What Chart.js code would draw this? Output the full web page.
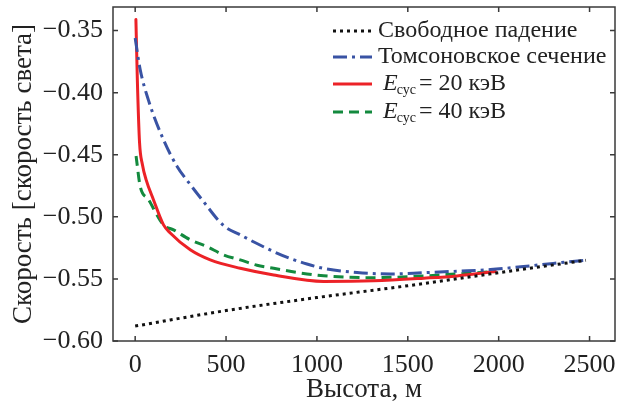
<!DOCTYPE html>
<html>
<head>
<meta charset="utf-8">
<script src="https://cdn.jsdelivr.net/npm/chart.js@4.4.1/dist/chart.umd.min.js"></script>
<style>
  html, body { margin: 0; padding: 0; background: #fff; }
  #wrap { width: 624px; height: 406px; }
</style>
</head>
<body>
<div id="wrap"><canvas id="speedChart" width="624" height="406"></canvas></div>
<script>
// height above ground, m  /  speed in units of c
const freeFallH = [0, 500, 1000, 1500, 2000, 2480];
const freeFallV = [-0.588, -0.5755, -0.565, -0.5555, -0.545, -0.535];

const thomsonH = [0, 27, 73, 156, 229, 303, 367, 486, 578, 670, 762, 853, 945, 1036, 1221, 1404, 1586, 1771, 1955, 2137, 2300, 2478];
const thomsonV = [-0.356, -0.381, -0.406, -0.438, -0.459, -0.474, -0.486, -0.507, -0.5145, -0.5215, -0.528, -0.5335, -0.538, -0.5415, -0.5448, -0.546, -0.545, -0.5438, -0.5425, -0.540, -0.5375, -0.535];

const e20H = [4, 12, 24, 40, 60, 100, 156, 193, 303, 413, 578, 762, 1037, 1312, 1588, 1771, 1982];
const e20V = [-0.341, -0.39, -0.44, -0.458, -0.47, -0.486, -0.5065, -0.513, -0.5266, -0.5347, -0.5414, -0.5468, -0.552, -0.5515, -0.5494, -0.5476, -0.5441];

const e40H = [5, 27, 73, 156, 211, 303, 395, 486, 578, 670, 762, 900, 1037, 1312, 1588, 1771, 1982];
const e40V = [-0.451, -0.475, -0.486, -0.5065, -0.5105, -0.5185, -0.524, -0.5306, -0.5347, -0.539, -0.5414, -0.545, -0.5475, -0.549, -0.5476, -0.546, -0.5441];

const xTicks = [0, 500, 1000, 1500, 2000, 2500];
const yTicks = [-0.60, -0.55, -0.50, -0.45, -0.40, -0.35];

const serif = '"Liberation Serif", "Times New Roman", serif';
const ink = '#222';

function toPoints(hs, vs) {
    return hs.map((h, i) => ({ x: h, y: vs[i] }));
}

const series = [
    { key: 'free', h: freeFallH, v: freeFallV, color: '#111111', dash: [3, 4], cap: 'butt' },
    { key: 'thomson', h: thomsonH, v: thomsonV, color: '#3953a4', dash: [14, 5, 3, 5], cap: 'butt' },
    { key: 'e20', h: e20H, v: e20V, color: '#ec2227', dash: [], cap: 'round' },
    { key: 'e40', h: e40H, v: e40V, color: '#138a3e', dash: [10, 6], cap: 'butt' }
];

// legend rows drawn inside the plot, top right
const legendRows = [
    { key: 'free', text: 'Свободное падение' },
    { key: 'thomson', text: 'Томсоновское сечение' },
    { key: 'e20', energy: '20 кэВ' },
    { key: 'e40', energy: '40 кэВ' }
];

const framePlugin = {
    id: 'frame',
    afterDatasetsDraw(chart) {
        const { ctx, chartArea: a, scales } = chart;
        ctx.save();
        ctx.strokeStyle = '#3a3a3a';
        ctx.lineWidth = 1.5;
        ctx.strokeRect(a.left, a.top, a.right - a.left, a.bottom - a.top);
        ctx.beginPath();
        xTicks.forEach((t) => {
            const px = scales.x.getPixelForValue(t);
            ctx.moveTo(px, a.bottom); ctx.lineTo(px, a.bottom - 5);
            ctx.moveTo(px, a.top); ctx.lineTo(px, a.top + 5);
        });
        yTicks.forEach((t) => {
            const py = scales.y.getPixelForValue(t);
            ctx.moveTo(a.left, py); ctx.lineTo(a.left + 5, py);
            ctx.moveTo(a.right, py); ctx.lineTo(a.right - 5, py);
        });
        ctx.stroke();
        ctx.restore();
    }
};

const legendPlugin = {
    id: 'insideLegend',
    afterDraw(chart) {
        const ctx = chart.ctx;
        const x0 = 333, x1 = 372;
        const rowY = [31, 57, 84, 112];
        ctx.save();
        ctx.textBaseline = 'alphabetic';
        ctx.fillStyle = ink;
        legendRows.forEach((row, i) => {
            const s = series.find((d) => d.key === row.key);
            const y = rowY[i];
            ctx.beginPath();
            ctx.strokeStyle = s.color;
            ctx.lineWidth = 3;
            ctx.lineCap = 'butt';
            ctx.setLineDash(s.dash);
            ctx.moveTo(x0, y);
            ctx.lineTo(x1, y);
            ctx.stroke();
            ctx.setLineDash([]);

            if (row.text) {
                ctx.font = '24px ' + serif;
                ctx.fillText(row.text, 378, y + 6);
            } else {
                let tx = 383;
                ctx.font = 'italic 24px ' + serif;
                ctx.fillText('E', tx, y + 6);
                tx += ctx.measureText('E').width - 1;
                ctx.font = '14px ' + serif;
                ctx.fillText('сус', tx, y + 10);
                tx += ctx.measureText('сус').width + 3;
                ctx.font = '24px ' + serif;
                ctx.fillText('= ' + row.energy, tx, y + 6);
            }
        });
        ctx.restore();
    }
};

new Chart(document.getElementById('speedChart').getContext('2d'), {
    type: 'line',
    data: {
        datasets: series.map((s) => ({
            label: s.key,
            data: toPoints(s.h, s.v),
            borderColor: s.color,
            borderWidth: 3,
            borderDash: s.dash,
            borderCapStyle: s.cap,
            pointRadius: 0,
            fill: false,
            cubicInterpolationMode: 'monotone'
        }))
    },
    options: {
        responsive: false,
        animation: false,
        layout: { padding: { left: 0, right: 9, top: 7, bottom: 0 } },
        plugins: { legend: { display: false }, tooltip: { enabled: false } },
        scales: {
            x: {
                type: 'linear',
                min: -122,
                max: 2640,
                afterBuildTicks: (scale) => { scale.ticks = xTicks.map((v) => ({ value: v })); },
                afterFit: (scale) => {
                    scale.height = 65;
                    scale.paddingLeft = 0;
                    scale.paddingRight = 0;
                },
                grid: { display: false, drawTicks: false },
                border: { display: false },
                ticks: {
                    padding: 9,
                    color: ink,
                    font: { family: serif, size: 26 },
                    maxRotation: 0,
                    callback: (v) => String(v)
                },
                title: {
                    display: true,
                    text: 'Высота, м',
                    color: ink,
                    font: { family: serif, size: 27 },
                    padding: { top: 0, bottom: 0 }
                }
            },
            y: {
                min: -0.60,
                max: -0.331,
                afterBuildTicks: (scale) => { scale.ticks = yTicks.map((v) => ({ value: v })); },
                afterFit: (scale) => {
                    scale.width = 113;
                    scale.paddingTop = 0;
                    scale.paddingBottom = 0;
                },
                grid: { display: false, drawTicks: false },
                border: { display: false },
                ticks: {
                    padding: 10,
                    color: ink,
                    font: { family: serif, size: 26 },
                    callback: (v) => '\u2212' + Math.abs(v).toFixed(2)
                },
                title: {
                    display: true,
                    text: 'Скорость [скорость света]',
                    color: ink,
                    font: { family: serif, size: 27 },
                    padding: { top: 8, bottom: 0 }
                }
            }
        }
    },
    plugins: [framePlugin, legendPlugin]
});
</script>
</body>
</html>
